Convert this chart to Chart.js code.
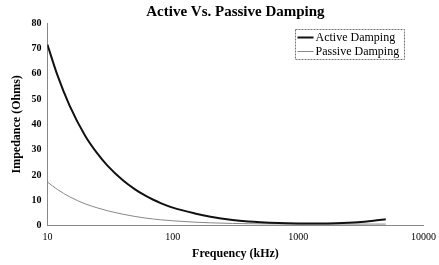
<!DOCTYPE html>
<html>
<head>
<meta charset="utf-8">
<script src="https://cdn.jsdelivr.net/npm/chart.js@4/dist/chart.umd.min.js"></script>
<style>
  html, body { margin: 0; padding: 0; background: #fff; }
  #wrap { width: 439px; height: 265px; }
</style>
</head>
<body>
<div id="wrap"><canvas id="chart"></canvas></div>
<script>
// frequencies in kHz, impedance in ohms
const freqs = [10, 12, 15, 20, 25, 30, 40, 50, 60, 70, 80, 100, 150, 200, 300, 400, 500, 700, 1000, 1500, 2000, 3000, 4000, 5000];
const activeDamping = [71.5, 59.5, 47.5, 35.5, 28.5, 23.8, 17.9, 14.3, 11.9, 10.2, 8.9, 7.1, 4.8, 3.5, 2.2, 1.6, 1.3, 1.0, 0.85, 0.8, 0.9, 1.3, 1.9, 2.5];
const passiveDamping = [17.2, 14.3, 11.4, 8.6, 7.0, 5.9, 4.5, 3.6, 3.0, 2.6, 2.3, 1.9, 1.35, 1.1, 0.85, 0.75, 0.7, 0.65, 0.6, 0.6, 0.6, 0.6, 0.6, 0.6];
const xTicks = [10, 100, 1000, 10000];
const yTicks = [0, 10, 20, 30, 40, 50, 60, 70, 80];

const serif = "'Liberation Serif', 'DejaVu Serif', serif";

// boxed legend in the upper right of the plot
const boxedLegend = {
  id: "boxedLegend",
  afterDraw(chart) {
    const ctx = chart.ctx;
    const area = chart.chartArea;
    const w = 109, h = 30;
    const x0 = area.right - 20 - w;
    const y0 = area.top + 6;
    ctx.save();
    ctx.strokeStyle = "#777";
    ctx.lineWidth = 1;
    ctx.setLineDash([2, 1]);
    ctx.strokeRect(Math.round(x0) + 0.5, Math.round(y0) + 0.5, w, h);
    ctx.setLineDash([]);
    ctx.font = "12px " + serif;
    ctx.textBaseline = "middle";
    chart.data.datasets.forEach((ds, i) => {
      const y = Math.round(y0 + 8 + i * 14) + 0.5;
      ctx.strokeStyle = ds.borderColor;
      ctx.lineWidth = ds.borderWidth;
      ctx.beginPath();
      ctx.moveTo(x0 + 3, y);
      ctx.lineTo(x0 + 19, y);
      ctx.stroke();
      ctx.fillStyle = "#000";
      ctx.fillText(ds.label, x0 + 21, y);
    });
    ctx.restore();
  }
};

new Chart(document.getElementById("chart"), {
  type: "line",
  data: {
    datasets: [
      {
        label: "Active Damping",
        data: freqs.map((f, i) => ({ x: f, y: activeDamping[i] })),
        borderColor: "#111",
        borderWidth: 2,
        pointRadius: 0,
        cubicInterpolationMode: "monotone",
        fill: false
      },
      {
        label: "Passive Damping",
        data: freqs.map((f, i) => ({ x: f, y: passiveDamping[i] })),
        borderColor: "#888",
        borderWidth: 1,
        pointRadius: 0,
        cubicInterpolationMode: "monotone",
        fill: false
      }
    ]
  },
  options: {
    responsive: true,
    maintainAspectRatio: false,
    animation: false,
    layout: { padding: { left: 6, right: 5, top: 1, bottom: 0 } },
    plugins: {
      title: {
        display: true,
        fullSize: false,
        text: "Active Vs. Passive Damping",
        color: "#000",
        font: { family: serif, size: 15, weight: "bold" },
        padding: { top: 2, bottom: 2 }
      },
      legend: { display: false },
      tooltip: { enabled: false }
    },
    scales: {
      x: {
        type: "logarithmic",
        min: 10,
        max: 10000,
        afterBuildTicks(axis) { axis.ticks = xTicks.map(v => ({ value: v })); },
        ticks: {
          color: "#000",
          font: { family: serif, size: 10 },
          maxRotation: 0,
          callback: v => String(v)
        },
        grid: { display: false, tickLength: 3 },
        border: { color: "#888", dash: [3, 1] },
        title: {
          display: true,
          text: "Frequency (kHz)",
          color: "#000",
          font: { family: serif, size: 12, weight: "bold" },
          padding: { top: 0 }
        }
      },
      y: {
        min: 0,
        max: 80,
        afterBuildTicks(axis) { axis.ticks = yTicks.map(v => ({ value: v })); },
        ticks: {
          color: "#000",
          font: { family: serif, size: 10, weight: "bold" }
        },
        grid: { display: false, tickLength: 3 },
        border: { color: "#888", dash: [3, 1] },
        title: {
          display: true,
          text: "Impedance (Ohms)",
          color: "#000",
          font: { family: serif, size: 12, weight: "bold" },
          padding: { bottom: 4 }
        }
      }
    }
  },
  plugins: [boxedLegend]
});
</script>
</body>
</html>
